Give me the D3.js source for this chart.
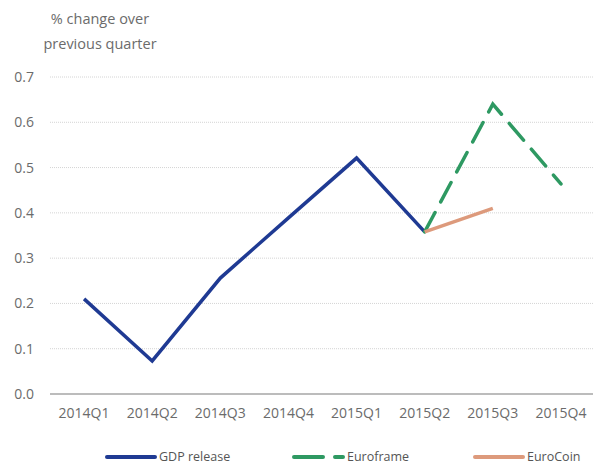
<!DOCTYPE html>
<html>
<head>
	<title>GDP nowcast</title>
	<script src="https://d3js.org/d3.v7.min.js"></script>
	<style type="text/css">
		body { margin: 0; background: #fff; }
		text { font-family: "Open Sans", sans-serif; fill: #6b6b6b; }
	</style>
</head>
<body>
<div id="chart"></div>
	<script type="text/javascript">
	var quarters = ["2014Q1", "2014Q2", "2014Q3", "2014Q4", "2015Q1", "2015Q2", "2015Q3", "2015Q4"];
	var gdpRelease = [0.21, 0.073, 0.256, 0.389, 0.521, 0.358, null, null];
	var euroframe = [null, null, null, null, null, 0.358, 0.64, 0.464];
	var euroCoin = [null, null, null, null, null, 0.358, 0.41, null];
	var yTicks = [0, 0.1, 0.2, 0.3, 0.4, 0.5, 0.6, 0.7];

	var width = 593,
		height = 465;

	var svg = d3.select('#chart')
		.append('svg')
		.attr('width', width)
		.attr('height', height);

	var x = d3.scalePoint()
		.domain(quarters)
		.range([50, 595])
		.padding(0.5);

	var y = d3.scaleLinear()
		.domain([0, 0.7])
		.range([394, 77]);

	// gridlines
	svg.selectAll('line.grid')
		.data(yTicks.slice(1))
		.enter()
		.append('line')
		.attr('class', 'grid')
		.attr('x1', 50).attr('x2', 593)
		.attr('y1', function(d){ return y(d); })
		.attr('y2', function(d){ return y(d); })
		.attr('stroke', '#d4d4d4')
		.attr('stroke-width', 1)
		.attr('stroke-dasharray', '1,1');

	svg.append('line')
		.attr('x1', 50).attr('x2', 593)
		.attr('y1', y(0)).attr('y2', y(0))
		.attr('stroke', '#7a7a7a')
		.attr('stroke-width', 1.2);

	// y tick labels
	svg.selectAll('text.ytick')
		.data(yTicks)
		.enter()
		.append('text')
		.attr('class', 'ytick')
		.attr('x', 34)
		.attr('y', function(d){ return y(d) + 5; })
		.attr('text-anchor', 'end')
		.style('font-size', '14px')
		.text(function(d){ return d3.format('.1f')(d); });

	// x tick labels
	svg.selectAll('text.xtick')
		.data(quarters)
		.enter()
		.append('text')
		.attr('class', 'xtick')
		.attr('x', function(d){ return x(d); })
		.attr('y', 418)
		.attr('text-anchor', 'middle')
		.style('font-size', '14px')
		.text(function(d){ return d; });

	// axis title
	var title = svg.append('text')
		.attr('x', 100)
		.attr('text-anchor', 'middle')
		.style('font-size', '14.5px');
	title.append('tspan').attr('x', 100).attr('y', 24).text('% change over');
	title.append('tspan').attr('x', 100).attr('y', 49).text('previous quarter');

	var series = [
		{ name: 'GDP release', values: gdpRelease, color: '#1f3a93', dash: null },
		{ name: 'Euroframe', values: euroframe, color: '#2e9962', dash: '22,12' },
		{ name: 'EuroCoin', values: euroCoin, color: '#dd9a7c', dash: null }
	];

	var line = d3.line()
		.defined(function(d){ return d.v !== null; })
		.x(function(d){ return x(d.q); })
		.y(function(d){ return y(d.v); });

	series.forEach(function(s){
		var pts = quarters.map(function(q, i){ return { q: q, v: s.values[i] }; });
		svg.append('path')
			.datum(pts)
			.attr('d', line)
			.attr('fill', 'none')
			.attr('stroke', s.color)
			.attr('stroke-width', 3.5)
			.attr('stroke-linecap', s.dash ? 'round' : 'butt')
			.attr('stroke-dasharray', s.dash);
	});

	// legend
	var legendX = [107, 294, 475];
	var legend = svg.selectAll('g.legend')
		.data(series)
		.enter()
		.append('g')
		.attr('class', 'legend')
		.attr('transform', function(d, i){ return 'translate(' + legendX[i] + ',457)'; });

	legend.append('line')
		.attr('x1', 0).attr('x2', function(d){ return d.dash ? 49 : 48; })
		.attr('y1', 0).attr('y2', 0)
		.attr('stroke', function(d){ return d.color; })
		.attr('stroke-width', 4)
		.attr('stroke-linecap', 'round')
		.attr('stroke-dasharray', function(d){ return d.dash ? '29,12,8,100' : null; });

	legend.append('text')
		.attr('x', function(d){ return d.dash ? 53 : 52; })
		.attr('y', 4)
		.style('font-size', '12.5px')
		.style('fill', '#555')
		.text(function(d){ return d.name; });
	</script>
</body>
</html>
